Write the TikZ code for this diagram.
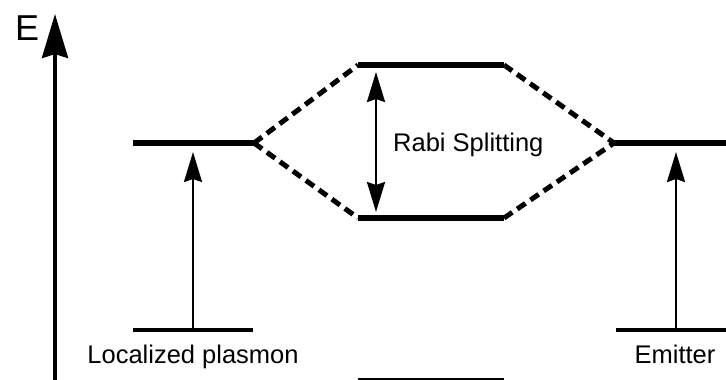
\documentclass[tikz,border=0pt]{standalone}
\usepackage{fontspec}
\setmainfont{Liberation Sans}
\usetikzlibrary{arrows.meta}
\begin{document}
\begin{tikzpicture}[x=1pt,y=-1pt,
  level/.style={line width=6pt},
  ground/.style={line width=4pt},
  link/.style={line width=5pt, dash pattern=on 10pt off 6pt},
  excite/.style={line width=2.5pt, -{Stealth[length=30pt,width=18pt,inset=3pt]}},
  rabi/.style={line width=2.5pt, {Stealth[length=30pt,width=18pt,inset=3pt]}-{Stealth[length=30pt,width=18pt,inset=3pt]}},
  axis/.style={line width=4pt, -{Stealth[length=44pt,width=26pt,inset=4pt]}},
  lbl/.style={font=\fontsize{25.5}{30}\selectfont, inner sep=0pt}]
\useasboundingbox (0,0) rectangle (726,380);
% coordinates
\coordinate (LPa) at (133,143); \coordinate (LPb) at (254,143);
\coordinate (LGa) at (133,330); \coordinate (LGb) at (253,330);
\coordinate (UPa) at (358,65);  \coordinate (UPb) at (504,65);
\coordinate (LOa) at (358,218); \coordinate (LOb) at (504,218);
\coordinate (Ga) at (358,381);  \coordinate (Gb) at (504,381);
\coordinate (EMa) at (614,143); \coordinate (EMb) at (726,143);
\coordinate (EGa) at (616,330); \coordinate (EGb) at (726,330);
\coordinate (ax0) at (55,382);  \coordinate (ax1) at (55,14);
\coordinate (la0) at (193,330); \coordinate (la1) at (193,152);
\coordinate (ra0) at (676,330); \coordinate (ra1) at (676,152);
\coordinate (rb0) at (376,72);  \coordinate (rb1) at (376,212);
% axis
\draw[axis] (ax0) -- (ax1);
\node[lbl, font=\fontsize{36}{40}\selectfont, anchor=base west] (E) at (15,40) {E};
% levels
\draw[level] (LPa) -- (LPb);
\draw[ground] (LGa) -- (LGb);
\draw[level] (UPa) -- (UPb);
\draw[level] (LOa) -- (LOb);
\draw[level] (Ga) -- (Gb);
\draw[level] (EMa) -- (EMb);
\draw[ground] (EGa) -- (EGb);
% dashed links
\draw[link] (LPb) -- (UPa);
\draw[link] (LPb) -- (LOa);
\draw[link] (UPb) -- (EMa);
\draw[link] (LOb) -- (EMa);
% arrows
\draw[excite] (la0) -- (la1);
\draw[excite] (ra0) -- (ra1);
\draw[rabi] (rb0) -- (rb1);
% labels
\node[lbl, anchor=base west] (rabiT) at (393,151) {Rabi Splitting};
\node[lbl, anchor=base] (lp) at (193,363) {Localized plasmon};
\node[lbl, anchor=base] (em) at (675,363) {Emitter};
\end{tikzpicture}
\end{document}
